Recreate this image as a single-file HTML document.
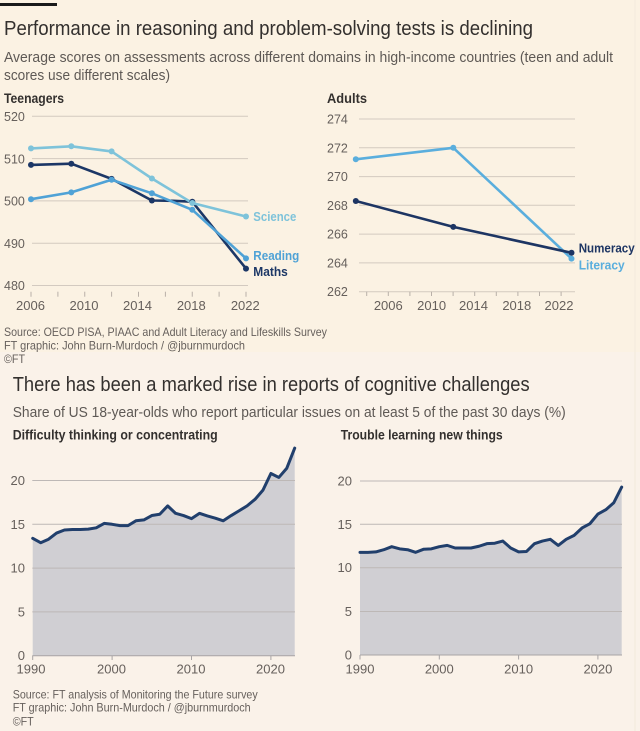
<!DOCTYPE html>
<html><head><meta charset="utf-8"><style>
html,body{margin:0;padding:0;background:#fbf2e5;}
svg{display:block;}
text{font-family:"Liberation Sans",Arial,sans-serif;}
</style></head><body>
<svg width="640" height="731" viewBox="0 0 640 731" xmlns="http://www.w3.org/2000/svg">
<rect x="0" y="0" width="640" height="352" fill="#fbf2e3"/>
<rect x="0" y="352" width="640" height="379" fill="#faf2e9"/>
<line x1="635" y1="0" x2="635" y2="731" stroke="#f3e9dc" stroke-width="1"/>
<rect x="0" y="3" width="57" height="3" fill="#1a1a1a"/>

<!-- Top titles -->
<text x="4" y="35" font-size="20" fill="#33302e" textLength="529" lengthAdjust="spacingAndGlyphs">Performance in reasoning and problem-solving tests is declining</text>
<text x="4" y="62" font-size="14.5" fill="#5e5955" textLength="609" lengthAdjust="spacingAndGlyphs">Average scores on assessments across different domains in high-income countries (teen and adult</text>
<text x="4" y="80" font-size="14.5" fill="#5e5955" textLength="166" lengthAdjust="spacingAndGlyphs">scores use different scales)</text>
<text x="4" y="103" font-size="13.5" font-weight="bold" fill="#33302e" textLength="60" lengthAdjust="spacingAndGlyphs">Teenagers</text>
<text x="327" y="103" font-size="13.5" font-weight="bold" fill="#33302e" textLength="40" lengthAdjust="spacingAndGlyphs">Adults</text>

<!-- Teen chart grid -->
<g stroke="#d3cac0" stroke-width="1">
<line x1="32" y1="116.3" x2="248" y2="116.3"/>
<line x1="32" y1="158.6" x2="248" y2="158.6"/>
<line x1="32" y1="200.9" x2="248" y2="200.9"/>
<line x1="32" y1="243.2" x2="248" y2="243.2"/>
<line x1="32" y1="285.5" x2="248" y2="285.5"/>
</g>
<g fill="#66605c" font-size="12.5">
<text x="4" y="121">520</text>
<text x="4" y="163.3">510</text>
<text x="4" y="205.6">500</text>
<text x="4" y="247.9">490</text>
<text x="4" y="290.2">480</text>
</g>
<g stroke="#b9b0a8" stroke-width="1">
<line x1="31" y1="291.7" x2="31" y2="296.7"/>
<line x1="57.9" y1="291.7" x2="57.9" y2="296.7"/>
<line x1="84.75" y1="291.7" x2="84.75" y2="296.7"/>
<line x1="111.6" y1="291.7" x2="111.6" y2="296.7"/>
<line x1="138.5" y1="291.7" x2="138.5" y2="296.7"/>
<line x1="165.4" y1="291.7" x2="165.4" y2="296.7"/>
<line x1="192.25" y1="291.7" x2="192.25" y2="296.7"/>
<line x1="219.1" y1="291.7" x2="219.1" y2="296.7"/>
<line x1="246" y1="291.7" x2="246" y2="296.7"/>
</g>
<g fill="#66605c" font-size="13" text-anchor="middle">
<text x="30.5" y="310">2006</text>
<text x="84" y="310">2010</text>
<text x="137.5" y="310">2014</text>
<text x="191.3" y="310">2018</text>
<text x="245.3" y="310">2022</text>
</g>

<!-- Teen series -->
<g fill="none" stroke-width="2.6" stroke-linejoin="round" stroke-linecap="round">
<polyline stroke="#1c3766" points="31,164.9 71.3,163.7 111.6,178.9 151.9,200.5 173,200.8 192.3,201.7 246,268.6"/>
<polyline stroke="#7ec3da" points="31,148.4 71.3,146.3 111.6,151.4 151.9,178.5 192.3,203 246,216.5"/>
<polyline stroke="#4fa2d6" points="31,199.2 71.3,192.4 111.6,179.8 151.9,193.3 192.3,209.8 246,258.4"/>
</g>
<g fill="#1c3766">
<circle cx="31" cy="164.9" r="3"/><circle cx="71.3" cy="163.7" r="3"/><circle cx="111.6" cy="178.9" r="3"/><circle cx="151.9" cy="200.5" r="3"/><circle cx="192.3" cy="201.7" r="3"/><circle cx="246" cy="268.6" r="3"/>
</g>
<g fill="#7ec3da">
<circle cx="31" cy="148.4" r="3"/><circle cx="71.3" cy="146.3" r="3"/><circle cx="111.6" cy="151.4" r="3"/><circle cx="151.9" cy="178.5" r="3"/><circle cx="192.3" cy="203" r="3"/><circle cx="246" cy="216.5" r="3"/>
</g>
<g fill="#4fa2d6">
<circle cx="31" cy="199.2" r="3"/><circle cx="71.3" cy="192.4" r="3"/><circle cx="111.6" cy="179.8" r="3"/><circle cx="151.9" cy="193.3" r="3"/><circle cx="192.3" cy="209.8" r="3"/><circle cx="246" cy="258.4" r="3"/>
</g>
<text x="253.3" y="221" font-size="13" font-weight="bold" fill="#7ec3da" textLength="43" lengthAdjust="spacingAndGlyphs">Science</text>
<text x="253.3" y="260" font-size="13" font-weight="bold" fill="#4fa2d6" textLength="46" lengthAdjust="spacingAndGlyphs">Reading</text>
<text x="253.3" y="276" font-size="13" font-weight="bold" fill="#1c3766" textLength="34.5" lengthAdjust="spacingAndGlyphs">Maths</text>

<!-- Adults chart -->
<g stroke="#d3cac0" stroke-width="1">
<line x1="359" y1="119" x2="575" y2="119"/>
<line x1="359" y1="147.8" x2="575" y2="147.8"/>
<line x1="359" y1="176.6" x2="575" y2="176.6"/>
<line x1="359" y1="205.3" x2="575" y2="205.3"/>
<line x1="359" y1="234.1" x2="575" y2="234.1"/>
<line x1="359" y1="262.9" x2="575" y2="262.9"/>
<line x1="359" y1="291.7" x2="575" y2="291.7"/>
</g>
<g fill="#66605c" font-size="12.5">
<text x="327" y="123.5">274</text>
<text x="327" y="152.3">272</text>
<text x="327" y="181.1">270</text>
<text x="327" y="209.8">268</text>
<text x="327" y="238.6">266</text>
<text x="327" y="267.4">264</text>
<text x="327" y="296.2">262</text>
</g>
<g stroke="#b9b0a8" stroke-width="1">
<line x1="366.7" y1="291.7" x2="366.7" y2="296"/>
<line x1="388.3" y1="291.7" x2="388.3" y2="296"/>
<line x1="409.9" y1="291.7" x2="409.9" y2="296"/>
<line x1="431.5" y1="291.7" x2="431.5" y2="296"/>
<line x1="453.1" y1="291.7" x2="453.1" y2="296"/>
<line x1="474.7" y1="291.7" x2="474.7" y2="296"/>
<line x1="496.3" y1="291.7" x2="496.3" y2="296"/>
<line x1="517.9" y1="291.7" x2="517.9" y2="296"/>
<line x1="539.5" y1="291.7" x2="539.5" y2="296"/>
<line x1="561.1" y1="291.7" x2="561.1" y2="296"/>
</g>
<g fill="#66605c" font-size="13" text-anchor="middle">
<text x="388.3" y="310">2006</text>
<text x="431.6" y="310">2010</text>
<text x="473.5" y="310">2014</text>
<text x="516.8" y="310">2018</text>
<text x="559" y="310">2022</text>
</g>
<g fill="none" stroke-width="2.6" stroke-linejoin="round" stroke-linecap="round">
<polyline stroke="#5aaedd" points="355.8,159.3 453.3,147.8 571.5,258.6"/>
<polyline stroke="#1d3563" points="355.8,201 453.3,226.9 571.5,252.8"/>
</g>
<g fill="#5aaedd"><circle cx="355.8" cy="159.3" r="3"/><circle cx="453.3" cy="147.8" r="3"/><circle cx="571.5" cy="258.6" r="3"/></g>
<g fill="#1d3563"><circle cx="355.8" cy="201" r="3"/><circle cx="453.3" cy="226.9" r="3"/><circle cx="571.5" cy="252.8" r="3"/></g>
<text x="578.7" y="252.3" font-size="13" font-weight="bold" fill="#1d3563" textLength="56" lengthAdjust="spacingAndGlyphs">Numeracy</text>
<text x="578.7" y="269.3" font-size="13" font-weight="bold" fill="#5aaedd" textLength="46" lengthAdjust="spacingAndGlyphs">Literacy</text>

<!-- Top source -->
<g fill="#66605c" font-size="12">
<text x="4" y="336" textLength="323" lengthAdjust="spacingAndGlyphs">Source: OECD PISA, PIAAC and Adult Literacy and Lifeskills Survey</text>
<text x="4" y="349.5" textLength="241" lengthAdjust="spacingAndGlyphs">FT graphic: John Burn-Murdoch / @jburnmurdoch</text>
<text x="4" y="363" textLength="21" lengthAdjust="spacingAndGlyphs">©FT</text>
</g>

<!-- Bottom titles -->
<text x="12.7" y="391" font-size="20" fill="#33302e" textLength="517" lengthAdjust="spacingAndGlyphs">There has been a marked rise in reports of cognitive challenges</text>
<text x="12.7" y="417" font-size="14.5" fill="#5e5955" textLength="553" lengthAdjust="spacingAndGlyphs">Share of US 18-year-olds who report particular issues on at least 5 of the past 30 days (%)</text>
<text x="12.7" y="439.5" font-size="13.5" font-weight="bold" fill="#33302e" textLength="205" lengthAdjust="spacingAndGlyphs">Difficulty thinking or concentrating</text>
<text x="340.7" y="439.5" font-size="13.5" font-weight="bold" fill="#33302e" textLength="162" lengthAdjust="spacingAndGlyphs">Trouble learning new things</text>

<!-- Bottom left chart -->
<g transform="translate(32.7,655.7) scale(7.94,-8.76)">
<polygon fill="#d0cfd3" stroke="none" points="0,0 0,13.4 1,12.9 2,13.3 3,14.0 4,14.35 5,14.4 6,14.4 7,14.45 8,14.6 9,15.1 10,15.0 11,14.85 12,14.85 13,15.4 14,15.5 15,16.0 16,16.15 17,17.1 18,16.25 19,16.0 20,15.65 21,16.25 22,15.95 23,15.7 24,15.4 25,16.0 26,16.55 27,17.1 28,17.85 29,18.9 30,20.8 31,20.35 32,21.4 33,23.7 33,0"/>
</g>
<g stroke="#bdb8b6" stroke-width="1">
<line x1="32.3" y1="480.5" x2="295" y2="480.5"/>
<line x1="32.3" y1="524.3" x2="295" y2="524.3"/>
<line x1="32.3" y1="568.1" x2="295" y2="568.1"/>
<line x1="32.3" y1="611.9" x2="295" y2="611.9"/>
</g>
<g stroke="#a8a4a5" stroke-width="1">
<line x1="32.3" y1="655.7" x2="295" y2="655.7"/>
<line x1="32.7" y1="655.7" x2="32.7" y2="660"/>
<line x1="112.1" y1="655.7" x2="112.1" y2="660"/>
<line x1="191.5" y1="655.7" x2="191.5" y2="660"/>
<line x1="270.9" y1="655.7" x2="270.9" y2="660"/>
</g>
<g transform="translate(32.7,655.7) scale(7.94,-8.76)">
<polyline fill="none" stroke="#213f6c" stroke-width="3" vector-effect="non-scaling-stroke" stroke-linejoin="round" stroke-linecap="round" points="0,13.4 1,12.9 2,13.3 3,14.0 4,14.35 5,14.4 6,14.4 7,14.45 8,14.6 9,15.1 10,15.0 11,14.85 12,14.85 13,15.4 14,15.5 15,16.0 16,16.15 17,17.1 18,16.25 19,16.0 20,15.65 21,16.25 22,15.95 23,15.7 24,15.4 25,16.0 26,16.55 27,17.1 28,17.85 29,18.9 30,20.8 31,20.35 32,21.4 33,23.7"/>
</g>
<g fill="#66605c" font-size="13" text-anchor="end">
<text x="25" y="485">20</text>
<text x="25" y="528.8">15</text>
<text x="25" y="572.6">10</text>
<text x="25" y="616.4">5</text>
<text x="25" y="660.2">0</text>
</g>
<g fill="#66605c" font-size="13" text-anchor="middle">
<text x="31" y="673.3">1990</text>
<text x="111.5" y="673.3">2000</text>
<text x="191" y="673.3">2010</text>
<text x="270.5" y="673.3">2020</text>
</g>

<!-- Bottom right chart -->
<g transform="translate(360,655) scale(7.93,-8.7)">
<polygon fill="#d0cfd3" stroke="none" points="0,0 0,11.8 1,11.8 2,11.85 3,12.1 4,12.45 5,12.2 6,12.1 7,11.8 8,12.15 9,12.2 10,12.45 11,12.6 12,12.3 13,12.3 14,12.3 15,12.5 16,12.8 17,12.85 18,13.1 19,12.3 20,11.85 21,11.9 22,12.8 23,13.1 24,13.3 25,12.6 26,13.3 27,13.75 28,14.6 29,15.1 30,16.2 31,16.7 32,17.5 33,19.3 33,0"/>
</g>
<g stroke="#bdb8b6" stroke-width="1">
<line x1="360" y1="481" x2="622" y2="481"/>
<line x1="360" y1="524.3" x2="622" y2="524.3"/>
<line x1="360" y1="567.7" x2="622" y2="567.7"/>
<line x1="360" y1="611.5" x2="622" y2="611.5"/>
</g>
<g stroke="#a8a4a5" stroke-width="1">
<line x1="360" y1="655" x2="622" y2="655"/>
<line x1="360" y1="655" x2="360" y2="659.5"/>
<line x1="439.3" y1="655" x2="439.3" y2="659.5"/>
<line x1="518.6" y1="655" x2="518.6" y2="659.5"/>
<line x1="597.9" y1="655" x2="597.9" y2="659.5"/>
</g>
<g transform="translate(360,655) scale(7.93,-8.7)">
<polyline fill="none" stroke="#213f6c" stroke-width="3" vector-effect="non-scaling-stroke" stroke-linejoin="round" stroke-linecap="round" points="0,11.8 1,11.8 2,11.85 3,12.1 4,12.45 5,12.2 6,12.1 7,11.8 8,12.15 9,12.2 10,12.45 11,12.6 12,12.3 13,12.3 14,12.3 15,12.5 16,12.8 17,12.85 18,13.1 19,12.3 20,11.85 21,11.9 22,12.8 23,13.1 24,13.3 25,12.6 26,13.3 27,13.75 28,14.6 29,15.1 30,16.2 31,16.7 32,17.5 33,19.3"/>
</g>
<g fill="#66605c" font-size="13" text-anchor="end">
<text x="352" y="485.5">20</text>
<text x="352" y="528.8">15</text>
<text x="352" y="572.2">10</text>
<text x="352" y="616">5</text>
<text x="352" y="659.5">0</text>
</g>
<g fill="#66605c" font-size="13" text-anchor="middle">
<text x="360" y="673.3">1990</text>
<text x="439.3" y="673.3">2000</text>
<text x="518.6" y="673.3">2010</text>
<text x="597.9" y="673.3">2020</text>
</g>

<!-- Bottom source -->
<g fill="#66605c" font-size="12">
<text x="12.7" y="698.3" textLength="245" lengthAdjust="spacingAndGlyphs">Source: FT analysis of Monitoring the Future survey</text>
<text x="12.7" y="711.7" textLength="238" lengthAdjust="spacingAndGlyphs">FT graphic: John Burn-Murdoch / @jburnmurdoch</text>
<text x="12.7" y="725.7" textLength="21" lengthAdjust="spacingAndGlyphs">©FT</text>
</g>
</svg>
</body></html>
